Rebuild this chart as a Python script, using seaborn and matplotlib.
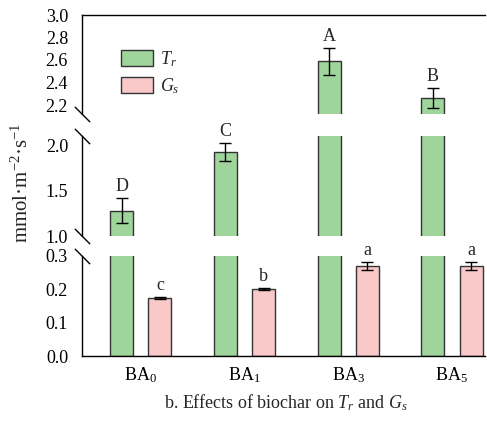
import numpy as np
import pandas as pd
import matplotlib
matplotlib.use("Agg")
import matplotlib.pyplot as plt
import seaborn as sns

# ---- data ----
groups = ["BA$_0$", "BA$_1$", "BA$_3$", "BA$_5$"]
series = ["$T_r$", "$G_s$"]
tr_values = [1.28, 1.93, 2.59, 2.26]
tr_errors = [0.14, 0.10, 0.12, 0.09]
gs_values = [0.174, 0.200, 0.270, 0.270]
gs_errors = [0.004, 0.003, 0.013, 0.012]
tr_letters = ["D", "C", "A", "B"]
gs_letters = ["c", "b", "a", "a"]
segment_limits = [(2.12, 3.0), (1.0, 2.11), (0.0, 0.3)]
segment_ticks = [[2.2, 2.4, 2.6, 2.8, 3.0], [1.0, 1.5, 2.0], [0.0, 0.1, 0.2, 0.3]]

df = pd.DataFrame({
    "group": groups * 2,
    "series": [series[0]] * 4 + [series[1]] * 4,
    "value": tr_values + gs_values,
})
errs = {series[0]: tr_errors, series[1]: gs_errors}
letters = {series[0]: tr_letters, series[1]: gs_letters}

sns.set_style("white")
plt.rcParams["font.family"] = ["Liberation Serif", "DejaVu Serif"]
plt.rcParams["mathtext.fontset"] = "custom"
plt.rcParams["mathtext.rm"] = "Liberation Serif"
plt.rcParams["mathtext.it"] = "Liberation Serif:italic"
plt.rcParams["mathtext.bf"] = "Liberation Serif:bold"

FS = 13
green = "#9fd49b"
pink = "#f9c8c8"
edge = "#333333"

fig = plt.figure(figsize=(4.87, 4.23), dpi=100)
W, H = 487, 423
left_px, right_px = 82, 485
seg_px = [(15, 114), (136, 236), (256, 356)]
axes = []
for (top, bot) in seg_px:
    ax = fig.add_axes([left_px / W, 1 - bot / H, (right_px - left_px) / W, (bot - top) / H])
    axes.append(ax)

for i, ax in enumerate(axes):
    sns.barplot(data=df, x="group", y="value", hue="series", hue_order=series,
                palette=[green, pink], width=0.74, gap=0.4, errorbar=None,
                edgecolor=edge, linewidth=1.0, ax=ax, legend=False, saturation=1)
    lo, hi = segment_limits[i]
    ax.set_ylim(lo, hi)
    ax.set_xlim(-0.567, 3.319)
    ax.set_yticks(segment_ticks[i])
    ax.set_yticklabels([f"{t:.1f}" for t in segment_ticks[i]], fontsize=FS)
    ax.set_xlabel("")
    ax.set_ylabel("")
    ax.tick_params(axis="y", direction="in", length=4, width=1, pad=10, colors="black")
    ax.tick_params(axis="x", direction="in", length=5, width=1, pad=7, colors="black")
    for s in ["left", "right", "top", "bottom"]:
        ax.spines[s].set_color("black")
        ax.spines[s].set_linewidth(1.0)
    ax.spines["right"].set_visible(False)
    ax.spines["top"].set_visible(i == 0)
    ax.spines["bottom"].set_visible(i == 2)
    if i < 2:
        ax.tick_params(axis="x", bottom=False, labelbottom=False)
    else:
        ax.set_xticks(range(len(groups)))
        ax.set_xticklabels(groups, fontsize=FS)

    for cont, s in zip(ax.containers, series):
        for j, bar in enumerate(cont):
            xc = bar.get_x() + bar.get_width() / 2
            h = bar.get_height()
            e = errs[s][j]
            if lo <= h <= hi:
                ax.errorbar(xc, h, yerr=e, fmt="none", ecolor="black",
                            elinewidth=1.0, capsize=4.5, capthick=1.0)
                ax.annotate(letters[s][j], (xc, h + e), xytext=(0, 5),
                            textcoords="offset points", ha="center",
                            va="baseline", fontsize=FS)

    # break marks
    mk = [(-1, 1), (1, -1)]
    if i > 0:
        ax.plot([0], [1], transform=ax.transAxes, marker=mk, markersize=11,
                mec="black", mew=1.0, linestyle="none", clip_on=False)
    if i < 2:
        ax.plot([0], [0], transform=ax.transAxes, marker=mk, markersize=11,
                mec="black", mew=1.0, linestyle="none", clip_on=False)

axes[0].legend(handles=list(axes[0].containers), labels=series, loc="upper left",
               bbox_to_anchor=((121 - left_px) / (right_px - left_px), 1 - (49 - 15) / 99),
               frameon=False, fontsize=FS, handlelength=1.75, handleheight=0.95,
               labelspacing=0.42, handletextpad=0.4, borderpad=0, borderaxespad=0)

fig.text(22 / W, 1 - 183 / H, "mmol·m$^{-2}$·s$^{-1}$", rotation=90,
         ha="center", va="center", fontsize=15)
fig.text(285.5 / W, 1 - 408 / H, "b. Effects of biochar on $T_r$ and $G_s$",
         ha="center", va="baseline", fontsize=FS)

fig.savefig("out.png", dpi=100)
